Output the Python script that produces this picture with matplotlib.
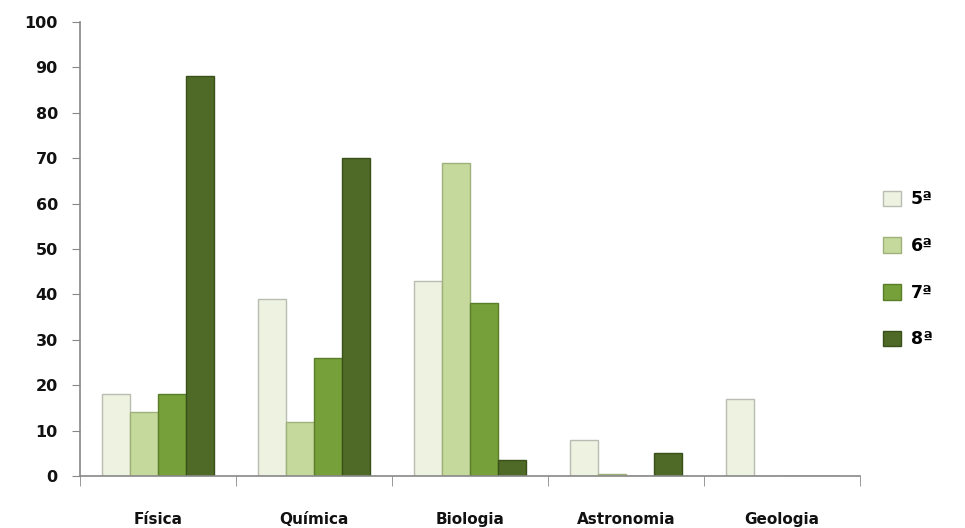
import matplotlib.pyplot as plt
import numpy as np

# data
subjects = ['Física', 'Química', 'Biologia', 'Astronomia', 'Geologia']
series = ['5ª', '6ª', '7ª', '8ª']
v5 = [18, 39, 43, 8, 17]
v6 = [14, 12, 69, 0.5, 0]
v7 = [18, 26, 38, 0, 0]
v8 = [88, 70, 3.5, 5, 0]

colors = ['#eef2e1', '#c6d99c', '#76a13a', '#4e6a26']
edges = ['#b9bcb0', '#9fb17a', '#5a7d2a', '#3a501b']

fig = plt.figure(figsize=(9.65, 5.28), dpi=100)
ax = fig.add_axes([0.083, 0.0985, 0.808, 0.86])

x = np.arange(len(subjects))
w = 0.18
for i, vals in enumerate([v5, v6, v7, v8]):
    ax.bar(x + (i - 1.5) * w, vals, width=w, color=colors[i],
           edgecolor=edges[i], linewidth=1.0, label=series[i])

ax.set_xlim(-0.5, len(subjects) - 0.5)
ax.set_ylim(0, 100)
ax.set_yticks(range(0, 101, 10))
ax.set_xticks(x)
ax.set_xticklabels(subjects, fontsize=11, fontweight='bold', color='#111111')
ax.set_xticks(np.arange(-0.5, len(subjects)), minor=True)
ax.tick_params(axis='x', which='major', length=0, pad=26)
ax.tick_params(axis='x', which='minor', length=7, color='#888888', direction='out')
ax.tick_params(axis='y', length=6, color='#888888', labelsize=11.5, pad=10)
for lab in ax.get_yticklabels():
    lab.set_fontweight('bold')
    lab.set_color('#111111')

for s in ['top', 'right']:
    ax.spines[s].set_visible(False)
for s in ['left', 'bottom']:
    ax.spines[s].set_color('#888888')
    ax.spines[s].set_linewidth(1.2)

leg = ax.legend(loc='center left', bbox_to_anchor=(1.01, 0.455), frameon=False,
                labelspacing=1.65, handlelength=1.0, handleheight=1.0,
                handletextpad=0.6, prop={'weight': 'bold', 'size': 12.5})

fig.savefig('out.png', dpi=100)
